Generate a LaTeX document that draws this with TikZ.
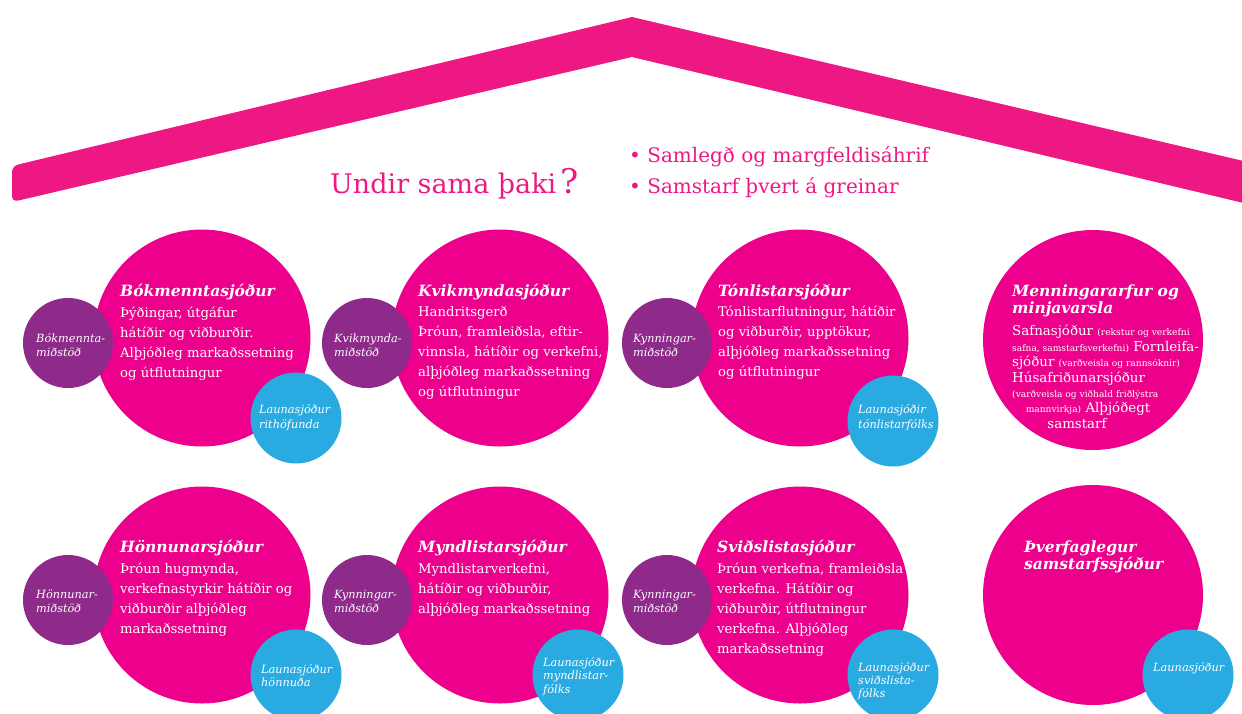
\documentclass[tikz,border=0pt]{standalone}
\usepackage{fontspec}
\setmainfont{DejaVu Serif}
\definecolor{roofpink}{RGB}{238,24,132}
\definecolor{cpink}{RGB}{236,0,140}
\definecolor{cpurple}{RGB}{142,42,138}
\definecolor{cblue}{RGB}{41,171,226}
\tikzset{
  pinkc/.style={circle, fill=cpink, inner sep=0pt, minimum size=217pt},
  pinkbig/.style={circle, fill=cpink, inner sep=0pt, minimum size=220pt},
  purc/.style={circle, fill=cpurple, inner sep=0pt, minimum size=90pt},
  bluec/.style={circle, fill=cblue, inner sep=0pt, minimum size=91pt},
  head/.style={anchor=base west, inner sep=0pt, text=white, font=\fontsize{15.5}{17}\selectfont\bfseries\itshape},
  body/.style={anchor=base west, inner sep=0pt, text=white, font=\fontsize{13.2}{20}\selectfont},
  lab/.style={anchor=base west, inner sep=0pt, text=white, font=\fontsize{11.3}{14}\selectfont\itshape},
  mbig/.style={anchor=base west, inner sep=0pt, text=white, font=\fontsize{13.4}{15}\selectfont},
  titlestyle/.style={anchor=base west, inner sep=0pt, text=roofpink, font=\fontsize{27}{30}\selectfont},
  bullet/.style={anchor=base west, inner sep=0pt, text=roofpink, font=\fontsize{20}{24}\selectfont},
}
\newcommand\sm[1]{{\fontsize{9.1}{10}\selectfont #1}}
\newcommand\textblock[6]{%
  \foreach \t [count=\i from 0] in {#6} {
    \node[#4] (#1-\i) at ({#2},{#3+#5*\i}) {\t};
  }}
\begin{document}
\begin{tikzpicture}[x=1pt,y=-1pt]
\useasboundingbox (0,0) rectangle (1242,713);
\clip (0,0) rectangle (1242,713);
% roof
\fill[roofpink] (632,17) -- (1252,163) -- (1252,205) -- (632,57) [rounded corners=6pt] -- (12,202) -- (12,166) [sharp corners] -- cycle;
% title and bullets
\node[titlestyle] (title) at (330,193) {Undir sama þaki\,{\fontsize{34}{34}\selectfont ?}};
\node[bullet] (b1) at (629,162) {• Samlegð og margfeldisáhrif};
\node[bullet] (b2) at (629,193) {• Samstarf þvert á greinar};
% ---------- row 1 ----------
\node[pinkc] (p1) at (202,338) {};
\node[pinkc] (p2) at (500,338) {};
\node[pinkc] (p3) at (800,338) {};
\node[pinkbig] (p4) at (1093,340) {};
\node[purc] (u1) at (68,343) {};
\node[purc] (u2) at (367,343) {};
\node[purc] (u3) at (667,343) {};
\node[bluec] (c1) at (296,418) {};
\node[bluec] (c3) at (893,421) {};
% ---------- row 2 ----------
\node[pinkc] (p5) at (202,595) {};
\node[pinkc] (p6) at (500,595) {};
\node[pinkc] (p7) at (800,595) {};
\node[pinkbig] (p8) at (1093,595) {};
\node[purc] (u5) at (68,600) {};
\node[purc] (u6) at (367,600) {};
\node[purc] (u7) at (667,600) {};
\node[bluec] (c5) at (296,675) {};
\node[bluec] (c6) at (578,675) {};
\node[bluec] (c7) at (893,675) {};
\node[bluec] (c8) at (1188,675) {};
% ---------- texts row 1 ----------
\node[head] (h1) at (120,296) {Bókmenntasjóður};
\textblock{t1}{120}{317}{body}{20}{{Þýðingar, útgáfur},{hátíðir og viðburðir.},{Alþjóðleg markaðssetning},{og útflutningur}}
\node[head] (h2) at (418,296) {Kvikmyndasjóður};
\textblock{t2}{418}{316}{body}{20}{{Handritsgerð},{Þróun, framleiðsla, eftir-},{vinnsla, hátíðir og verkefni,},{alþjóðleg markaðssetning},{og útflutningur}}
\node[head] (h3) at (718,296) {Tónlistarsjóður};
\textblock{t3}{718}{316}{body}{20}{{Tónlistarflutningur, hátíðir},{og viðburðir, upptökur,},{alþjóðleg markaðssetning},{og útflutningur}}
\textblock{h4}{1012}{296}{head}{17}{{Menningararfur og},{minjavarsla}}
\node[mbig] (m1) at (1012,335) {Safnasjóður \sm{(rekstur og verkefni}};
\node[mbig] (m2) at (1012,351) {\sm{safna, samstarfsverkefni)} Fornleifa-};
\node[mbig] (m3) at (1012,366) {sjóður \sm{(varðveisla og rannsóknir)}};
\node[mbig] (m4) at (1012,382) {Húsafriðunarsjóður};
\node[mbig] (m5) at (1012,397) {\sm{(varðveisla og viðhald friðlýstra}};
\node[mbig,anchor=base] (m6) at (1088,412) {\sm{mannvirkja)} Alþjóðegt};
\node[mbig,anchor=base] (m7) at (1077,428) {samstarf};
\textblock{l1}{36}{342}{lab}{14}{{Bókmennta-},{miðstöð}}
\textblock{l2}{334}{342}{lab}{14}{{Kvikmynda-},{miðstöð}}
\textblock{l3}{633}{342}{lab}{14}{{Kynningar-},{miðstöð}}
\textblock{k1}{259}{413}{lab}{15}{{Launasjóður},{rithöfunda}}
\textblock{k3}{858}{413}{lab}{15}{{Launasjóðir},{tónlistarfólks}}
% ---------- texts row 2 ----------
\node[head] (h5) at (120,552) {Hönnunarsjóður};
\textblock{t5}{120}{573}{body}{20}{{Þróun hugmynda,},{verkefnastyrkir hátíðir og},{viðburðir alþjóðleg},{markaðssetning}}
\node[head] (h6) at (418,552) {Myndlistarsjóður};
\textblock{t6}{418}{573}{body}{20}{{Myndlistarverkefni,},{hátíðir og viðburðir,},{alþjóðleg markaðssetning}}
\node[head] (h7) at (717,552) {Sviðslistasjóður};
\textblock{t7}{717}{573}{body}{20}{{Þróun verkefna, framleiðsla},{verkefna. Hátíðir og},{viðburðir, útflutningur},{verkefna. Alþjóðleg},{markaðssetning}}
\textblock{h8}{1024}{552}{head}{17}{{Þverfaglegur},{samstarfssjóður}}
\textblock{l5}{36}{598}{lab}{14}{{Hönnunar-},{miðstöð}}
\textblock{l6}{334}{598}{lab}{14}{{Kynningar-},{miðstöð}}
\textblock{l7}{633}{598}{lab}{14}{{Kynningar-},{miðstöð}}
\textblock{k5}{261}{673}{lab}{13}{{Launasjóður},{hönnuða}}
\textblock{k6}{543}{666}{lab}{13.5}{{Launasjóður},{myndlistar-},{fólks}}
\textblock{k7}{858}{671}{lab}{13}{{Launasjóður},{sviðslista-},{fólks}}
\node[lab] (k8) at (1153,671) {Launasjóður};
\end{tikzpicture}
\end{document}
